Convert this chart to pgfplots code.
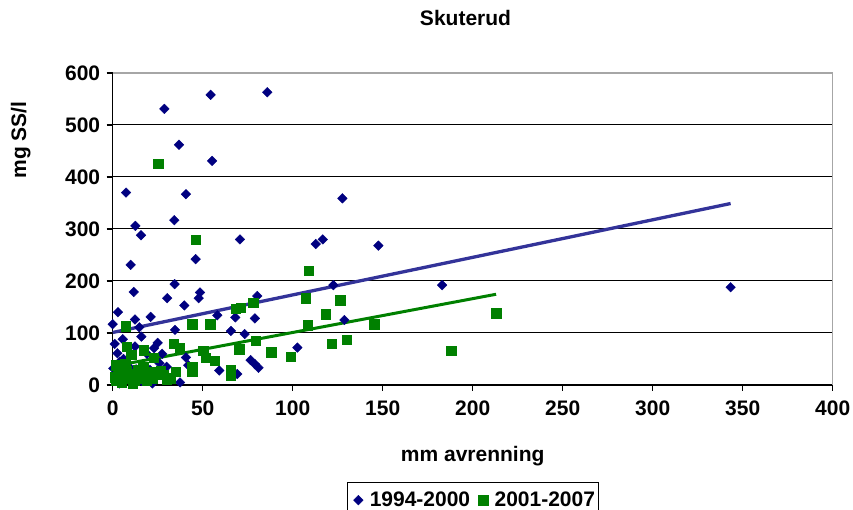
\documentclass[border=0pt]{standalone}
\usepackage{fontspec}
\setmainfont{Liberation Sans}
\usepackage{pgfplots}
\usepackage{pgfplotstable}
\pgfplotsset{compat=1.18}

\definecolor{navyblue}{RGB}{0,0,128}
\definecolor{xlgreen}{RGB}{0,128,0}
\definecolor{trendblue}{RGB}{51,51,153}
\newcommand\cf{\bfseries\fontsize{21}{25}\selectfont}

% 1994-2000
\pgfplotstableread{
x y
28.7 531
54.4 558
85.9 563
36.8 462
55.2 431
7.4 370
40.7 367
12.6 306
34.2 317
15.7 288
70.7 280
10 231
46.1 242
34.4 194
11.7 179
48.5 178
47.8 167
30.3 167
39.8 153
80.3 171
2.9 140
21.1 131
12.4 126
58.1 134
68.1 130
79 128
0 117
14.8 111
34.6 106
65.7 104
73.3 98
15.9 93
5.6 88
25 81
1.1 79
23 71
12.4 74
102.6 72
27.5 60
40.7 53
76.6 48
79 40
81 33
59.2 28
69.2 21
37.4 5
22 3
20.7 29
2.6 61
4 45
0.3 32
8.9 35
3.7 3
6 50
9 20
13 30
17 22
19 60
8 12
4 25
11 8
2 14
26 42
30 35
16 8
24 18
42 38
127.6 359
112.8 271
116.7 280
147.6 268
122.6 192
183 192
128.7 125
343.3 188
}\seriesA

% 2001-2007
\pgfplotstableread{
x y
25.3 426
46.3 279
78.1 158
68.5 147
71.2 148
7.2 113
44.2 117
54.2 117
7.8 74
17.2 67
34 80
37.4 72
79.6 85
70.3 69
88.1 63
99 54
50.3 66
10.3 58
22.6 52
51.8 53
56.6 47
65.5 30
65.5 19
44.2 35
44.2 26
26.8 28
32.4 13
35.2 26
109 220
107.4 167
126.4 163
118.3 136
108.3 115
145.3 117
213 138
121.8 79
130.2 87
188 66
1 15
2 8
3 25
4 35
5 5
6 18
8 28
9 12
10 22
12 8
13 18
14 30
15 12
16 24
18 15
19 8
20 20
22 12
23 25
2 38
5 30
11 3
7 40
17 35
28 20
30 10
}\seriesB

\begin{document}
\begin{tikzpicture}
\begin{axis}[
  width=720pt, height=312pt, scale only axis,
  xmin=0, xmax=400, ymin=0, ymax=600,
  xtick={0,50,...,400}, ytick={0,100,...,600},
  axis x line*=bottom, axis y line*=left,
  axis line style={line width=1.2pt, black, -},
  tick align=outside, major tick length=6pt,
  tick style={line width=1.2pt, black},
  ymajorgrids, grid style={line width=1pt, black},
  ticklabel style={font=\cf},
  /pgf/number format/assume math mode=true,
  yticklabel style={xshift=-3pt},
  xticklabel style={yshift=-6pt},
  clip=false,
  legend image code/.code={%
    \path (-9.6pt,0pt) (9pt,0pt);
    \draw[#1] plot coordinates {(0pt,0pt)};},
  legend style={at={(axis description cs:0.5,-0.31)}, anchor=north,
    legend columns=2, draw=black, line width=0.8pt, font=\cf,
    inner xsep=1pt, inner ysep=8pt,
    /tikz/every even column/.append style={column sep=1pt}},
]
\addplot[only marks, mark=square*, mark size=3.4pt, navyblue,
  mark options={rotate=45, fill=navyblue, draw=navyblue, line width=0.4pt}]
  table[x=x, y=y] {\seriesA};
\addplot[only marks, mark=square*, mark size=4.6pt, xlgreen,
  mark options={fill=xlgreen, draw=xlgreen, line width=0.4pt}]
  table[x=x, y=y] {\seriesB};
\addplot[trendblue, line width=3.3pt, forget plot] coordinates {(0,101) (343.3,349)};
\addplot[xlgreen, line width=3pt, forget plot] coordinates {(1,36.6) (213,174.5)};
\draw[gray!70, line width=1.2pt] (rel axis cs:0,1) -- (rel axis cs:1,1) -- (rel axis cs:1,0);
\legend{1994-2000, 2001-2007}
\node[anchor=base, font=\cf] at (axis description cs:0.49,1.1538) {Skuterud};
\node[anchor=base, font=\cf] at (axis description cs:0.5,-0.2436) {mm avrenning};
\node[anchor=base, rotate=90, font=\cf] at (axis description cs:-0.1204,0.785) {mg SS/l};
\end{axis}
\pgfresetboundingbox
\useasboundingbox (-112.7pt,-125pt) rectangle (740.3pt,385pt);
\end{tikzpicture}
\end{document}
